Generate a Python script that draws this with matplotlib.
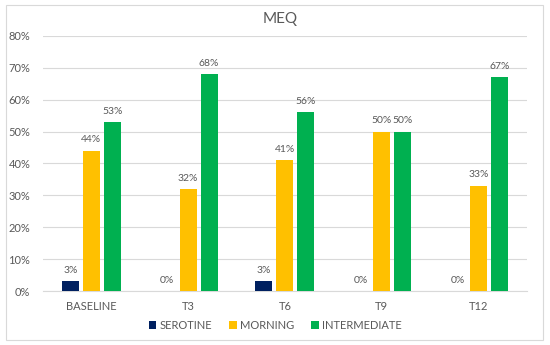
import numpy as np
import matplotlib.pyplot as plt
from matplotlib.patches import Rectangle

# dane
kategorie = ['BASELINE', 'T3', 'T6', 'T9', 'T12']
serotine = [3, 0, 3, 0, 0]
morning = [44, 32, 41, 50, 33]
intermediate = [53, 68, 56, 50, 67]

serie = [('SEROTINE', serotine, '#002060'),
         ('MORNING', morning, '#FFC000'),
         ('INTERMEDIATE', intermediate, '#00B050')]

plt.rcParams['font.family'] = ['Lato', 'DejaVu Sans']
szary = '#595959'

fig = plt.figure(figsize=(5.5, 3.45), dpi=100)
ax = fig.add_axes([0.078, 0.1565, 0.88, 0.7392])

x = np.arange(len(kategorie))
w = 0.176
off = 0.217
for k, (nazwa, vals, kol) in enumerate(serie):
    pos = x + (k - 1) * off
    ax.bar(pos, vals, w, color=kol, label=nazwa, zorder=3)
    for p, v in zip(pos, vals):
        ax.text(p, v + 2, f'{v}%', ha='center', va='bottom', fontsize=7.5, color=szary)

ax.set_xlim(-0.5, len(kategorie) - 0.5)
ax.set_ylim(0, 80)
ax.set_yticks(range(0, 81, 10))
ax.set_yticklabels([f'{t}%' for t in range(0, 81, 10)])
ax.set_xticks(x)
ax.set_xticklabels(kategorie)
ax.tick_params(axis='both', length=0, labelsize=8, colors=szary)
ax.tick_params(axis='y', pad=9)
ax.tick_params(axis='x', pad=7)
ax.grid(axis='y', color='#d9d9d9', linewidth=0.8, zorder=0)
for s in ['top', 'right', 'left']:
    ax.spines[s].set_visible(False)
ax.spines['bottom'].set_color('#d9d9d9')

fig.text(0.51, 0.945, 'MEQ', ha='center', va='center', fontsize=11, color=szary)

ax.legend(loc='center', bbox_to_anchor=(0.48, -0.135), ncol=3, frameon=False,
          fontsize=8, labelcolor=szary, handlelength=0.7, handleheight=0.7,
          handletextpad=0.3, columnspacing=1.5)

fig.patches.append(Rectangle((6 / 550, 5 / 345), 537 / 550, 335 / 345,
                             transform=fig.transFigure, fill=False,
                             edgecolor='#d9d9d9', linewidth=0.8))

fig.savefig('out.png', dpi=100)
